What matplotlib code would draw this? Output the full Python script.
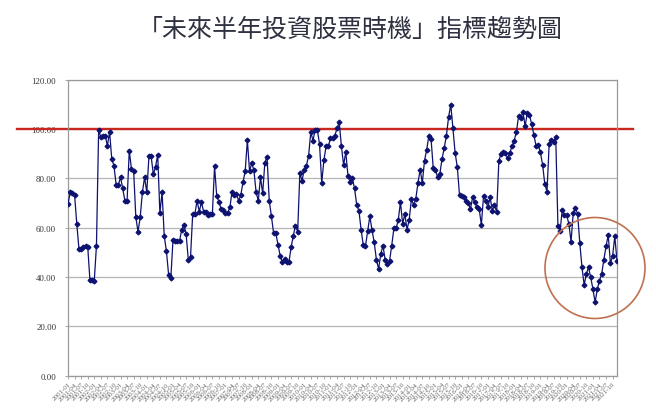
import matplotlib
matplotlib.use("Agg")
import matplotlib.pyplot as plt
import matplotlib.patches as mpatches
import pandas as pd
import numpy as np

title = "「未來半年投資股票時機」指標趨勢圖"
start_month = "2001-01"
values = [
    69.6, 74.3, 73.9, 73.2, 61.5, 51.3, 51.3, 52.1, 52.4, 52.3,
    38.9, 38.6, 38.4, 52.7, 99.7, 96.6, 97.0, 97.3, 93.2, 98.9,
    87.8, 85.1, 77.4, 77.4, 80.4, 75.9, 70.9, 70.9, 91.2, 83.8,
    83.1, 64.2, 58.3, 64.2, 74.3, 80.4, 74.3, 88.9, 88.9, 81.7,
    84.5, 89.6, 65.9, 74.3, 56.5, 50.4, 40.8, 39.4, 55.1, 54.7,
    54.7, 54.7, 59.2, 61.1, 57.4, 46.9, 47.9, 65.5, 65.5, 70.9,
    66.5, 70.3, 66.5, 66.5, 65.1, 65.5, 65.5, 84.8, 72.7, 70.5,
    67.5, 67.3, 65.9, 66.1, 68.2, 74.6, 73.2, 73.6, 70.9, 73.2,
    78.4, 82.8, 95.5, 82.8, 86.2, 83.2, 74.3, 70.9, 80.4, 73.9,
    86.4, 88.8, 70.9, 64.6, 57.7, 57.7, 53.1, 48.6, 45.9, 47.4,
    45.9, 45.9, 52.0, 56.7, 60.8, 58.3, 82.2, 79.0, 83.5, 85.1,
    89.2, 98.7, 95.3, 99.7, 99.7, 93.9, 78.1, 87.4, 93.0, 93.0,
    96.2, 96.2, 97.3, 100.3, 102.7, 93.0, 85.4, 90.5, 81.1, 78.4,
    80.0, 75.9, 69.2, 66.9, 59.2, 52.9, 52.4, 58.5, 64.6, 59.0,
    54.0, 47.0, 43.2, 49.3, 52.7, 47.0, 45.2, 46.4, 52.7, 59.7,
    59.7, 63.1, 70.3, 61.5, 65.5, 59.2, 63.1, 71.6, 69.2, 71.6,
    78.1, 83.5, 78.1, 87.2, 91.6, 97.3,
    95.9, 84.0, 83.5, 80.4, 81.7, 87.8, 92.2, 97.3, 104.7, 109.9,
    100.3, 90.3, 84.5, 73.2, 73.0, 72.3, 70.9, 70.0, 67.5, 72.3,
    70.3, 68.2, 67.5, 61.1, 73.0, 70.9, 68.2, 72.3, 66.9, 69.2,
    66.2, 87.2, 89.9, 90.5, 90.3, 88.1, 90.3, 93.0, 95.3, 98.7,
    105.1, 104.3, 107.0, 101.1, 106.5, 105.7, 102.0, 97.6, 93.2, 93.5,
    90.5, 85.4, 77.7, 74.6, 93.9, 95.7, 94.9, 96.6, 60.8, 58.7,
    67.3, 65.1, 65.1, 61.5, 54.3,
    65.9, 68.0, 65.5, 53.8, 43.9, 36.7, 41.2, 43.9, 39.8, 35.1,
    29.7, 35.0, 38.5, 41.2, 47.0, 52.4, 57.0, 45.6, 48.4, 56.5, 46.6,
]
months = list(pd.date_range(start_month, periods=len(values), freq="MS").strftime("%Y-%m"))
threshold = 100
y_ticks = [0, 20, 40, 60, 80, 100, 120]

plt.rcParams["font.family"] = ["Liberation Serif", "Noto Sans CJK TC", "DejaVu Sans"]

fig = plt.figure(figsize=(6.56, 4.10), dpi=100)
ax = fig.add_axes([0.1037, 0.0817, 0.8368, 0.7215])

x = np.arange(len(values))
ax.plot(x, values, color="#0d1270", linewidth=0.9, marker="D", markersize=2.4,
        markerfacecolor="#0d1270", markeredgecolor="#0d1270", zorder=3)

ax.set_xlim(0, len(values) - 1)
ax.set_ylim(0, 120)
ax.set_yticks(y_ticks)
ax.set_yticklabels([f"{v:.2f}" for v in y_ticks], fontsize=6.3, color="#333333")
ax.yaxis.grid(True, color="#b5b5b5", linewidth=0.9)
ax.set_axisbelow(True)

tick_pos = x[::3]
ax.set_xticks(tick_pos)
ax.set_xticklabels([months[i] for i in tick_pos], rotation=45, ha="right",
                   fontsize=5.0, color="#666666", rotation_mode="anchor")
ax.tick_params(axis="x", length=2, color="#999999", pad=2, width=0.6)
ax.tick_params(axis="y", length=2.5, color="#999999", pad=6, width=0.6)

for s in ax.spines.values():
    s.set_color("#9a9a9a")
    s.set_linewidth(0.9)

ax.axhline(threshold, xmin=-0.093, xmax=1.029, color="#c8261e", linewidth=1.7,
           clip_on=False, zorder=2)

circ = mpatches.Ellipse((595 / 656, 1 - 269 / 410), 100 / 656, 101 / 410,
                        transform=fig.transFigure, fill=False,
                        edgecolor="#c0704f", linewidth=1.2, zorder=5)
fig.patches.append(circ)

fig.text(0.534, 0.927, title, ha="center", va="center", fontsize=18,
         color="#2e3140", family=["Noto Sans CJK TC", "DejaVu Sans"])

fig.savefig("out.png", dpi=100, facecolor="white")
